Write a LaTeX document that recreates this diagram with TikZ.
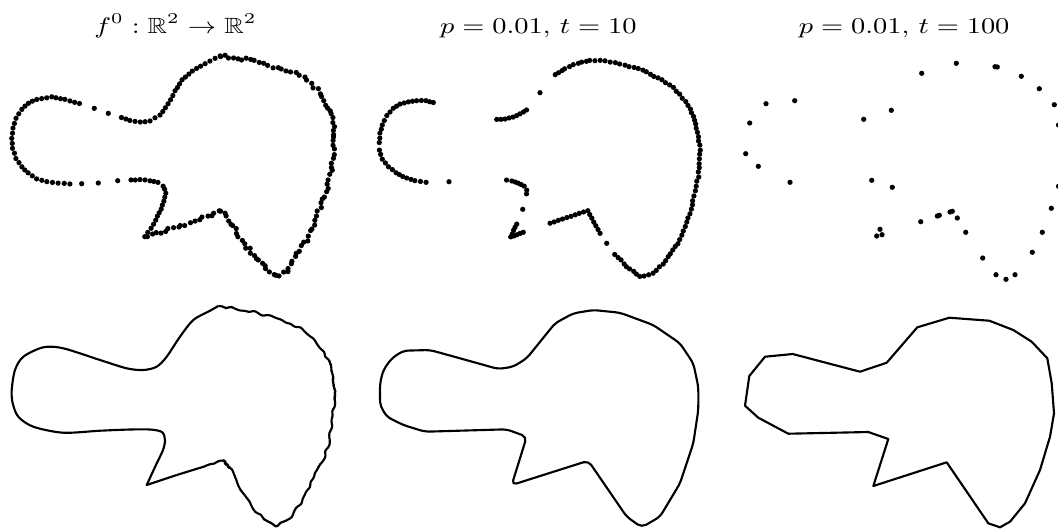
\documentclass[tikz,border=0pt]{standalone}
\usepackage{amsmath,amssymb}
\usepackage{tikz}
\usetikzlibrary{calc}

% dots spaced about #1 px along a chain of points, jittered by #2 px
\newcommand{\dotrun}[5]{%
  \foreach \x/\y [remember=\x as \px (initially #3), remember=\y as \py (initially #4)] in {#5}{%
    \pgfmathtruncatemacro\nd{max(1,round(veclen(\x-\px,\y-\py)/#1))}%
    \foreach \kk in {1,...,\nd}{%
      \fill ($(\px,\py)!\kk/\nd!(\x,\y)+({#2*rand},{#2*rand})$) circle (1.05pt);}}}

\begin{document}
\begin{tikzpicture}[x=0.4pt,y=-0.4pt,
  curve/.style={line width=0.85pt,line join=round},
  title/.style={font=\fontsize{8.8}{10}\selectfont,anchor=base,xscale=1.23}]
\pgfmathsetseed{11}
\useasboundingbox (0,0) rectangle (1058,529);
\clip (0,0) rectangle (1058,529);

% Titles of the three columns.
\node[title] (t0) at (175.5,33.5) {$f^0:\mathbb{R}^2\to\mathbb{R}^2$};
\node[title] (t10) at (538.3,33.5) {$p=0.01$, $t=10$};
\node[title] (t100) at (904.2,33.5) {$p=0.01$, $t=100$};

% Column (a): samples of f^0 and its curve.
\dotrun{5}{0.3}{220}{56}{220/56,205/63.5,192/71,182/80,175/91,168/104,160/115,150/120.7,140/122.3,130/120.7,121.7/117.7}
\dotrun{5}{0.2}{79.3}{103.7}{79.3/103.7,65/99.3,51.7/97,36.7/99.3,28.3/103.3,21.7/109.3,16/118.3,13/128.3,11.7/138.3,12.7/148.3,16/158.3,21.7/166.7,28/173,36.7/179,46.7/181.7,58.3/183,70/184}
\dotrun{4.5}{0.3}{130.7}{180}{130.7/180,140/179.7,150/180.7,158/182.5,163/186,165.7/193,164/201,161/209,156/220,151/228,145/236.7}
\dotrun{4.2}{1.5}{145}{236.7}{160/232.3,173.3/228.3,190/222.7,206.7/216.7,221.7/210.7,230/220,236.7/233.3,246.7/246.7,256.7/258.3,266.7/270,276.7/276.7,286.7/271.7,296.7/253.3,306.7/240,315/220,323.3/200,328.3/183.3,331.7/166.7,333.3/150,333.3/133.3,334/118.3,326.7/105,320/93.3,311.7/83.3,300/75,286.7/70,273.3/66.7,260/61.7,246.7/59.3,233.3/58,220/56}
\foreach \x/\y in {108.3/113.3,94.3/108.3,81.7/183.7,98.3/183,117.7/180.7}{\fill (\x,\y) circle (1.05pt);}
\draw[curve] (176.7,475) -- (146.7,485) -- plot[smooth] coordinates {(156.7,463.3)(163,450)(165,440)(162,432)(150,429.5)(130,429.5)(100,430.7)(63.3,432.7)(33.3,426.7)(18.3,416.7)(12.7,403.3)(11.7,390)(15,370)(23.3,356.7)(43.3,347.3)(63.3,348.3)(100,360)(126.7,368.3)(143.3,370)(156.7,366.7)(166.7,356.7)(180,336.7)(193.3,320)(210,310.7)(218.3,306)};
\draw[curve,rounded corners=1pt] (218.3,306)
  \foreach \x/\y [remember=\x as \px (initially 218.3), remember=\y as \py (initially 306)] in {233.3/308.3,253.3/311.7,276.7/318.3,300/328.3,316.7/341.7,328.3/360,334/375,334/390,334/403.3,331.7/423.3,329/443.3,321.7/463.3,313.3/478,303.3/500,291/517,276.7/526.7,263.3/518.3,250/503.3,240/486.7,230/468,223.3/460.7,200/466.7}{
    \foreach \kk in {1,...,5}{ -- ($(\px,\py)!\kk/5!(\x,\y)!0.75pt*rand!90:(\px,\py)$)}} -- (176.7,475);

% Column (b): p=0.01, t=10.
\dotrun{5}{0.2}{433.3}{102.7}{433.3/102.7,426/100.7,416.7/100.7,408.3/101.7,400/104,393.3/108.3,386.7/115.7,382.3/125,380/133.3,379.3/142.7,379.3/150,382.3/159,388.3/166.7,396/172.7,402.7/176.7,415/180.7,426/182.3}
\dotrun{4}{0.2}{496.7}{119.3}{496.7/119.3,505/119,513/117,520/114,526.7/110}
\dotrun{4.5}{0.5}{555}{75}{555/75,565/69,578/63,590/60,605/61,620/64,643/70,661.7/80,673.3/87.3,688.3/105,695/120,698.3/136.7,700/150,698.3/176.7,694/196,690/213.3,680/240,673.3/250,663/264,653.3/273.3,640/276.7,626.7/266.7,615/254}
\dotrun{4.5}{0.2}{600}{233.3}{600/233.3,587.7/210.7,550/223.3}
\dotrun{4}{0.2}{506.7}{180}{506.7/180,512/181,518.3/183.3,524/186,526.7/190,526.7/194}
\dotrun{3.5}{0.2}{516.7}{224}{516.7/224,510.7/237,523.3/232.3}
\foreach \x/\y in {449/181.7,540/92.7,606.7/243.3,522.7/209.3}{\fill (\x,\y) circle (1.05pt);}
\draw[curve,rounded corners=2pt] (380,383.3) -- (383.3,370) -- (391.7,358.3) -- (403.3,350.7) -- (430,350) -- (460,358.3) -- (498.3,369) -- (513.3,366.7) -- (526.7,358.3) -- (555,323.3) -- (573.3,313.3) -- (593.3,310) -- (620,312.7) -- (653.3,325) -- (680,343.3) -- (693.3,363.3) -- (698.3,386.7) -- (698.3,410) -- (693.3,443.3) -- (680,483.3) -- (660,516.7) -- (641.7,527.3) -- (626.7,516.7) -- (588.3,460.7) -- (511.7,485) -- (526.7,436.7) -- (506.7,429.3) -- (425,431.7) -- (403.3,425) -- (386.7,416.7) -- (380,405) -- cycle;

% Column (c): p=0.01, t=100.
\foreach \x/\y in {766/103.7,794.7/100.7,749.7/123,745.7/153.7,758.3/166.3,790/182.3,863.7/119.3,891.3/110.3,871.7/180.3,892.3/187.3,880/229.3,876.7/236,882/234.7,921.7/73.3,956.3/63.3,995/66.7,997.3/67,1021.3/76.3,1039.3/88.7,1054.3/104.7,1058.5/125,1058.5/186.3,1051.3/208.3,1042.3/232.3,1032.3/252.3,1015/274.7,1006/279.3,996/274.7,982.7/258,965.7/232.3,957.3/218,952.3/211.3,950/212,939.3/215.3,937.3/216,920.7/221.7}{\fill (\x,\y) circle (1.05pt);}
\draw[curve] (765,356.7) -- (792.7,354) -- (860,371.7) -- (886.7,362.7) -- (917.3,327.3) -- (949.3,317.7) -- (989.3,320.7) -- (1013.3,330) -- (1031.7,341.7) -- (1047.3,358.3) -- (1051.7,383.3) -- (1054,413.3) -- (1050,436.7) -- (1040,470) -- (1025,503.3) -- (1010,521.7) -- (1000,527.3) -- (988.3,523.3) -- (946.7,462.3) -- (873.3,486) -- (888.3,439) -- (868.3,432) -- (788.3,433.7) -- (758.3,417.7) -- (745,405.7) -- (749.3,376) -- cycle;
\end{tikzpicture}
\end{document}
